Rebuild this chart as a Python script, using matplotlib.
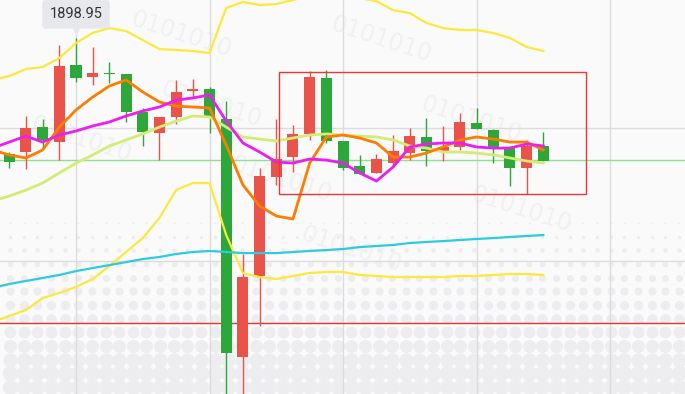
import numpy as np
import matplotlib.pyplot as plt
from matplotlib.patches import Rectangle
from matplotlib.transforms import offset_copy

# candle data (price), Chinese colour convention: red = up, green = down
opens = [1879.6, 1879.95, 1884.1, 1881.6, 1894.45, 1892.45, 1893.1, 1892.95, 1886.6, 1883.1,
         1885.8, 1890.1, 1890.45, 1885.45, 1845.8, 1859.3, 1875.8, 1879.1, 1882.95, 1892.3,
         1881.8, 1877.6, 1876.45, 1878.1, 1879.8, 1882.45, 1879.95, 1880.8, 1884.8, 1883.6,
         1880.6, 1877.3, 1880.95]
highs = [1879.95, 1885.95, 1885.45, 1897.8, 1898.95, 1897.45, 1894.95, 1892.95, 1887.3, 1885.8,
         1891.95, 1892.1, 1890.8, 1888.45, 1862.95, 1877.3, 1885.45, 1884.45, 1893.45, 1893.6,
         1881.8, 1879.45, 1879.6, 1882.8, 1883.95, 1885.6, 1884.3, 1886.45, 1887.3, 1883.8,
         1880.95, 1881.95, 1883.3]
lows = [1877.3, 1877.1, 1880.6, 1878.6, 1891.6, 1891.1, 1891.45, 1884.95, 1880.95, 1878.6,
        1884.6, 1888.95, 1883.1, 1836.95, 1836.95, 1850.95, 1874.45, 1876.6, 1881.95, 1881.45,
        1876.95, 1876.3, 1876.45, 1877.45, 1878.6, 1877.6, 1878.45, 1880.3, 1883.8, 1878.1,
        1874.3, 1872.95, 1878.45]
closes = [1878.3, 1883.95, 1881.95, 1894.3, 1892.3, 1893.1, 1892.95, 1886.6, 1883.3, 1885.8,
          1889.95, 1890.45, 1885.8, 1846.45, 1859.1, 1875.95, 1878.8, 1882.95, 1892.45, 1881.8,
          1877.3, 1876.3, 1878.8, 1880.1, 1882.6, 1880.1, 1880.8, 1884.95, 1883.8, 1880.6,
          1877.3, 1880.95, 1878.45]

# indicator lines, starting one bar before the first visible candle
ma_fast = [1880.28, 1879.45, 1878.95, 1880.28, 1884.1, 1886.95, 1889.1, 1890.95, 1891.95, 1889.95,
           1888.28, 1887.6, 1887.45, 1887.28, 1881.1, 1874.45, 1870.95, 1869.28, 1868.78, 1878.1,
           1882.45, 1882.78, 1882.28, 1881.45, 1879.1, 1879.1, 1879.78, 1880.78, 1881.95, 1882.45,
           1882.1, 1881.6, 1881.6, 1880.28]
ma_mid = [1880.6, 1881.6, 1882.6, 1881.6, 1882.78, 1883.45, 1884.28, 1884.95, 1885.95, 1886.78,
          1887.45, 1888.6, 1888.95, 1889.45, 1885.1, 1881.45, 1879.95, 1878.28, 1878.1, 1878.78,
          1878.6, 1878.1, 1876.45, 1875.1, 1877.45, 1880.78, 1881.28, 1881.45, 1881.45, 1880.78,
          1880.6, 1880.6, 1881.28, 1880.95]
ma_slow = [1871.78, 1872.6, 1873.6, 1874.78, 1876.45, 1878.1, 1879.45, 1880.95, 1881.95, 1882.95,
           1884.1, 1885.1, 1885.95, 1885.78, 1884.1, 1882.45, 1882.1, 1881.78, 1882.28, 1882.78,
           1882.95, 1882.78, 1882.6, 1882.45, 1881.95, 1880.95, 1880.6, 1879.95, 1879.95, 1879.78,
           1879.45, 1878.95, 1878.45, 1878.1]
ma_long = [1857.28, 1857.95, 1858.45, 1858.95, 1859.45, 1860.1, 1860.6, 1861.1, 1861.6, 1862.1,
           1862.45, 1862.95, 1863.28, 1863.45, 1863.28, 1863.1, 1863.1, 1863.1, 1863.28, 1863.45,
           1863.6, 1863.78, 1864.1, 1864.28, 1864.45, 1864.78, 1864.95, 1865.1, 1865.28, 1865.45,
           1865.6, 1865.78, 1865.95, 1866.1]
band_upper = [1891.95, 1892.6, 1893.78, 1894.1, 1895.6, 1898.1, 1899.78, 1900.6, 1900.1, 1898.6,
              1897.1, 1896.95, 1896.78, 1896.45, 1903.95, 1904.95, 1904.45, 1904.6, 1905.28, 1905.95,
              1906.28, 1906.1, 1905.6, 1905.1, 1903.6, 1903.1, 1901.45, 1900.6, 1900.28, 1900.28,
              1899.78, 1898.95, 1897.45, 1896.78]
band_lower = [1851.61, 1852.61, 1853.61, 1855.61, 1856.45, 1857.45, 1858.78, 1860.95, 1863.28, 1865.61,
              1868.95, 1873.61, 1874.78, 1874.78, 1866.1, 1859.78, 1859.1, 1858.78, 1859.28, 1859.78,
              1859.95, 1859.95, 1859.45, 1859.28, 1859.1, 1859.1, 1859.1, 1859.1, 1859.28, 1859.28,
              1859.45, 1859.61, 1859.61, 1859.45]

green_level = 1878.61
red_level = 1851.45
box_x = (16.19, 34.56)
box_y = (1872.95, 1893.28)
tip_bar = 4
tip_text = "1898.95"

UP = '#e9534a'
DOWN = '#2ca83a'
BG = '#fafafa'

fig = plt.figure(figsize=(6.85, 3.94), dpi=100)
fig.patch.set_facecolor(BG)

# background decoration in pixel space
bg = fig.add_axes([0, 0, 1, 1])
bg.set_xlim(0, 685)
bg.set_ylim(394, 0)
bg.axis('off')
bg.set_facecolor(BG)
for row in range(14):
    y = 223 + 13.65 * row
    d = min(2 + (y - 223) * 0.09, 15.5)
    xs = np.arange(10, 690, 13.65)
    bg.scatter(xs, np.full_like(xs, y), s=(d * 0.72) ** 2, color='#ededf0',
               linewidths=0, zorder=0)
# faint binary watermark
for tx, ty in [(130, 25), (330, 30), (160, 95), (420, 110), (30, 130),
               (230, 170), (470, 200), (300, 240)]:
    bg.text(tx, ty, "0101010", fontsize=17, color='#f1f1f1', rotation=-18,
            rotation_mode='anchor', zorder=0, clip_on=True)

ax = fig.add_axes([0, 0, 1, 1])
ax.patch.set_alpha(0)
ax.axis('off')
px = 16.69
ax.set_xlim(-9.24 / px, (685 - 9.24) / px)
ax.set_ylim(1905.28 - 394 / 6, 1905.28)

# grid
for gx in [4, 12, 20, 28, 36]:
    ax.axvline(gx, color='#dcdcde', lw=1, zorder=1)
for gy in [1883.95, 1861.78]:
    ax.axhline(gy, color='#dcdcde', lw=1, zorder=1)

ax.axhline(green_level, color='#8fe08f', lw=1, zorder=2)
ax.axhline(red_level, color='#e53a2a', lw=1, zorder=2)

# candles
x = np.arange(len(opens))
o = np.array(opens)
c = np.array(closes)
cols = [UP if cc >= oo else DOWN for oo, cc in zip(o, c)]
ax.vlines(x, lows, highs, colors=cols, lw=1, zorder=3)
bottom = np.minimum(o, c)
height = np.maximum(np.abs(c - o), 1 / 6)
ax.bar(x, height, bottom=bottom, width=0.66, color=cols, zorder=3)

# indicator lines
xl = np.arange(-1, len(opens))
ax.plot(xl, band_upper, color='#fde83c', lw=1.6, zorder=4)
ax.plot(xl, band_lower, color='#fde83c', lw=1.6, zorder=4)
ax.plot(xl, ma_long, color='#2ccbe0', lw=1.6, zorder=4)
ax.plot(xl, ma_slow, color='#d3ec74', lw=2, zorder=4)
ax.plot(xl, ma_fast, color='#ff7c00', lw=2, zorder=5)
ax.plot(xl, ma_mid, color='#ea1ef2', lw=2, zorder=5)

# highlighted range box
ax.add_patch(Rectangle((box_x[0], box_y[0]), box_x[1] - box_x[0], box_y[1] - box_y[0],
                       fill=False, edgecolor='#f03535', lw=1, zorder=6))

# price tooltip
tip_y = highs[tip_bar]
ax.annotate(tip_text, xy=(tip_bar, tip_y), xytext=(0, 17), textcoords='offset points',
            ha='center', va='center', fontsize=10.5, family='Roboto', color='#333333',
            bbox=dict(boxstyle='round,pad=0.5,rounding_size=0.25', fc='#e6e8eb', ec='none'),
            zorder=7)
trans = offset_copy(ax.transData, fig=fig, x=0, y=5.5, units='points')
ax.plot(tip_bar, tip_y, marker='v', ms=7, color='#e6e8eb', mec='none',
        transform=trans, zorder=7)

fig.savefig('out.png', dpi=100, facecolor=BG)
